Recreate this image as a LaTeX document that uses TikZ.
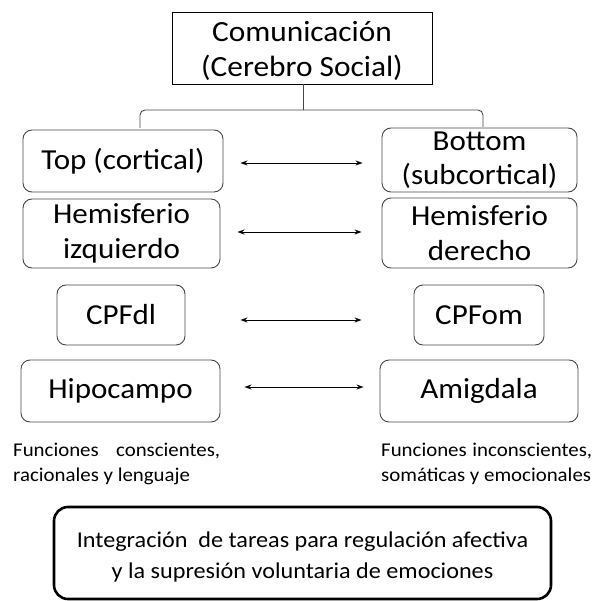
\documentclass[tikz,border=0pt]{standalone}
\usepackage{fontspec}
\setmainfont{Carlito}[FakeStretch=1.07]
\usetikzlibrary{arrows.meta}
\begin{document}
\begin{tikzpicture}[x=1pt,y=-1pt,
  bigfont/.style={font=\fontsize{29}{34.5}\selectfont},
  titlebox/.style={draw=black, line width=0.9pt},
  titletext/.style={inner sep=0pt, align=center, font=\fontsize{29.3}{35}\selectfont},
  rbox/.style={draw=black!72, rounded corners=9pt, line width=0.9pt, inner sep=0pt, align=center, bigfont},
  note/.style={inner sep=0pt, align=left, font=\fontsize{19.5}{25}\selectfont},
  finalbox/.style={draw=black, rounded corners=14pt, line width=2.6pt},
  finaltext/.style={inner sep=0pt, align=center, font=\fontsize{22.6}{31}\selectfont},
  biarrow/.style={{Stealth[length=7pt,width=5pt]}-{Stealth[length=7pt,width=5pt]}, line width=0.9pt, black},
  bracket/.style={draw=black!72, line width=0.9pt}
]
\useasboundingbox (0,0) rectangle (597,601);

\node[titlebox, minimum width=260pt, minimum height=72pt] (com) at (302,48) {};
\node[titletext] (comtext) at (302,51) {Comunicación\\(Cerebro Social)};

\node[rbox, minimum width=200pt, minimum height=62pt] (top) at (123,161) {Top (cortical)};
\node[rbox, minimum width=195pt, minimum height=64pt] (bot) at (479.5,160) {Bottom\\(subcortical)};
\node[rbox, minimum width=197pt, minimum height=69pt] (hi) at (121.5,233.5) {Hemisferio\\izquierdo};
\node[rbox, minimum width=195pt, minimum height=70pt] (hd) at (479.5,233) {Hemisferio\\derecho};
\node[rbox, minimum width=128pt, minimum height=60pt] (dl) at (121,315) {CPFdl};
\node[rbox, minimum width=130pt, minimum height=60pt] (om) at (479,315) {CPFom};
\node[rbox, minimum width=199pt, minimum height=62pt] (hip) at (120.5,391) {Hipocampo};
\node[rbox, minimum width=198pt, minimum height=62pt] (ami) at (479,391) {Amigdala};

\node[note, anchor=north west] (nl) at (13,443) {\makebox[207pt][s]{Funciones conscientes,}\\racionales y lenguaje};
\node[note, anchor=north west] (nr) at (381,443) {\makebox[211pt][s]{Funciones inconscientes,}\\somáticas y emocionales};

\node[finalbox, minimum width=497pt, minimum height=92pt] (fin) at (302.5,553) {};
\node[finaltext] (fintext) at (302.5,557) {Integración\ \ de tareas para regulación afectiva\\y la supresión voluntaria de emociones};

% bracket
\coordinate (bl) at (140,128);
\coordinate (br) at (483,127);
\coordinate (bj) at (303,110);
\draw[bracket, rounded corners=5pt] (bl) |- (bj) -| (br);
\draw[bracket] (com.south -| bj) -- (bj);

% arrows (yshift is in canvas direction: positive = up)
\draw[biarrow] ([xshift=17pt,yshift=-2pt]top.east) -- ([xshift=-19pt,yshift=-3pt]bot.west);
\draw[biarrow] ([xshift=17pt,yshift=1.5pt]hi.east) -- ([xshift=-20pt,yshift=1pt]hd.west);
\draw[biarrow] ([xshift=55pt,yshift=-5pt]dl.east) -- ([xshift=-52pt,yshift=-5pt]om.west);
\draw[biarrow] ([xshift=24pt,yshift=4pt]hip.east) -- ([xshift=-16pt,yshift=4pt]ami.west);
\end{tikzpicture}
\end{document}
